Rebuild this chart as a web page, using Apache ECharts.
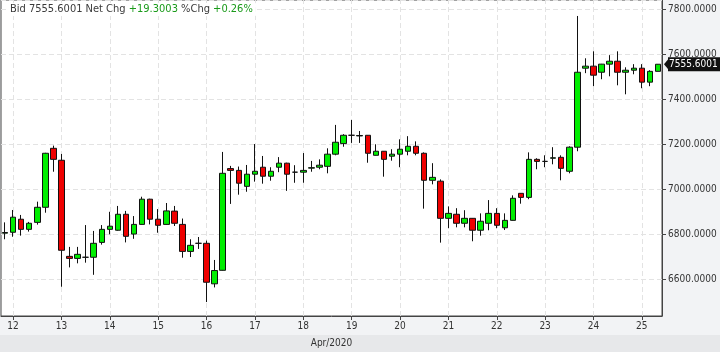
<!DOCTYPE html>
<html><head><meta charset="utf-8">
<script src="https://cdn.jsdelivr.net/npm/echarts@6/dist/echarts.min.js"></script>
<style>html,body{margin:0;padding:0;background:#f2f3f5}#c{width:720px;height:352px}</style>
</head><body><div id="c"></div>
<script>
// ---- data (4-hour bars, Apr 11 20:00 .. Apr 25 08:00) ----
const month = 'Apr/2020';
const firstDay = 11;
const firstHour = 20;
const opens  = [6805,6809,6867,6822,6853,6920,7182,7129,6702,6693,6698,6698,6764,6822,6818,6889,6801,6844,6956,6867,6844,6903,6844,6724,6760,6760,6580,6640,7092,7084,7013,7067,7098,7058,7098,7116,7076,7076,7094,7098,7102,7156,7203,7240,7237,7240,7151,7169,7147,7156,7169,7191,7160,7040,7036,6871,6889,6849,6871,6818,6849,6893,6829,6862,6982,6964,7133,7124,7138,7142,7080,7187,7538,7547,7520,7556,7569,7520,7529,7538,7476,7524];
const closes = [6808,6876,6822,6849,6920,7160,7133,6729,6693,6711,6698,6760,6822,6836,6889,6791,6844,6956,6867,6840,6904,6849,6724,6751,6760,6587,6639,7071,7084,7027,7067,7080,7058,7080,7116,7067,7076,7084,7096,7107,7156,7209,7240,7240,7239,7160,7169,7133,7156,7178,7191,7160,7040,7053,6871,6893,6849,6871,6818,6858,6893,6840,6862,6960,6964,7133,7124,7124,7140,7093,7187,7520,7547,7507,7556,7569,7520,7529,7538,7476,7524,7555.6001];
const lows   = [6778,6789,6794,6812,6843,6896,7078,6567,6653,6671,6674,6620,6754,6800,6816,6764,6780,6843,6844,6807,6843,6837,6696,6699,6735,6499,6564,6639,6935,6976,6989,7034,7025,7038,7076,6993,7029,7029,7078,7089,7071,7151,7189,7206,7206,7118,7150,7056,7127,7098,7151,7151,6914,7022,6763,6827,6831,6831,6769,6794,6818,6827,6819,6861,6936,6956,7089,7098,7111,7040,7071,7169,7516,7458,7489,7502,7462,7422,7511,7449,7458,7524];
const highs  = [6853,6908,6886,6855,6945,7162,7194,7157,6744,6744,6841,6815,6841,6900,6926,6904,6881,6967,6958,6912,6939,6926,6870,6778,6788,6772,6686,7166,7104,7101,7108,7201,7148,7098,7143,7118,7107,7161,7126,7133,7182,7286,7245,7308,7259,7241,7200,7170,7178,7222,7236,7213,7164,7116,7044,6924,6916,6907,6872,6893,6952,6916,6893,6973,6983,7164,7138,7151,7187,7151,7191,7770,7582,7613,7557,7596,7613,7542,7556,7556,7529,7556.5];
const yMin = 6437, yMax = 7841;
const lastPrice = 7555.6001;
const header = {bid: '7555.6001', netChg: '+19.3003', pctChg: '+0.26%'};

// ---- derived ----
const hours = opens.map((_, i) => (firstHour + 4 * i) % 24);
const days = opens.map((_, i) => firstDay + Math.floor((firstHour + 4 * i) / 24));
const categories = opens.map((_, i) => days[i] + ' ' + String(hours[i]).padStart(2, '0') + ':00');
const candles = opens.map((o, i) => [o, closes[i], lows[i], highs[i]]);
const dayStart = (i) => hours[i] === 0;
const gridLines = [];
hours.forEach((h, i) => { if (h === 0) gridLines.push({xAxis: i}); });

const W = 720, H = 352;
const grid = {left: 1, right: 58, top: 0, bottom: 36};
const FONT = "'DejaVu Sans Condensed', 'DejaVu Sans', sans-serif";
const GRIDCOL = '#e3e3e3';

const chart = echarts.init(document.getElementById('c'), null, {renderer: 'canvas'});
chart.setOption({
  animation: false,
  backgroundColor: '#f2f3f5',
  title: {
    left: 7, top: 3, padding: [1, 3],
    backgroundColor: '#ffffff',
    text: '{d|Bid ' + header.bid + ' Net Chg }{g|' + header.netChg + '}{d| %Chg }{g|' + header.pctChg + '}',
    textStyle: {
      fontWeight: 'normal',
      rich: {
        d: {color: '#3a3a3a', fontSize: 11, fontWeight: 'normal', fontFamily: FONT},
        g: {color: '#1a9a1a', fontSize: 11, fontWeight: 'normal', fontFamily: FONT}
      }
    }
  },
  grid: Object.assign({show: true, backgroundColor: '#ffffff', borderColor: '#444', borderWidth: 1}, grid),
  xAxis: {
    type: 'category', data: categories, boundaryGap: true,
    axisLine: {show: true, lineStyle: {color: '#444'}},
    axisTick: {show: true, alignWithLabel: true, length: 4, interval: (i) => dayStart(i), lineStyle: {color: '#444'}},
    axisLabel: {interval: (i) => dayStart(i), formatter: (v, i) => String(days[i]), color: '#333', fontSize: 10, fontFamily: FONT, margin: 5},
    splitLine: {show: false}
  },
  yAxis: {
    type: 'value', position: 'right', min: yMin, max: yMax, splitNumber: 7,
    axisLine: {show: true, lineStyle: {color: '#444'}},
    axisTick: {show: true, length: 4, lineStyle: {color: '#444'}},
    axisLabel: {color: '#333', fontSize: 10, fontFamily: FONT, margin: 6, showMinLabel: false, showMaxLabel: false,
      formatter: (v) => v.toFixed(4)},
    splitLine: {show: true, lineStyle: {type: [5, 3], color: GRIDCOL, width: 1}}
  },
  series: [{
    type: 'candlestick', data: candles, barWidth: 6, z: 3,
    itemStyle: {color: '#00ee00', color0: '#ee0000', borderColor: '#111', borderColor0: '#111', borderColorDoji: '#111', borderWidth: 1},
    markLine: {
      silent: true, symbol: ['none', 'none'], label: {show: false}, z: 1, animation: false,
      lineStyle: {type: [5, 3], color: GRIDCOL, width: 1},
      emphasis: {disabled: true},
      data: gridLines
    }
  }]
});

const py = chart.convertToPixel({yAxisIndex: 0}, lastPrice);
const xr = W - grid.right;
chart.setOption({
  graphic: [
    {type: 'rect', z: -10, silent: true, shape: {x: 0, y: H - 17, width: W, height: 17}, style: {fill: '#e7e8ea'}},
    {type: 'text', z: 10, silent: true, x: (grid.left + xr) / 2, y: H - 9, style: {text: month, fill: '#333', font: "10px " + FONT, textAlign: 'center', textVerticalAlign: 'middle'}},
    {type: 'polygon', z: 10, silent: true, shape: {points: [[xr + 2, py], [xr + 7, py - 6], [xr + 7, py + 6]]}, style: {fill: '#111'}},
    {type: 'rect', z: 10, silent: true, shape: {x: xr + 6, y: py - 7, width: W - xr - 6, height: 14}, style: {fill: '#111'}},
    {type: 'text', z: 11, silent: true, x: xr + 7, y: py, style: {text: lastPrice.toFixed(4), fill: '#fff', font: "10px " + FONT, textVerticalAlign: 'middle'}}
  ]
});
</script></body></html>
